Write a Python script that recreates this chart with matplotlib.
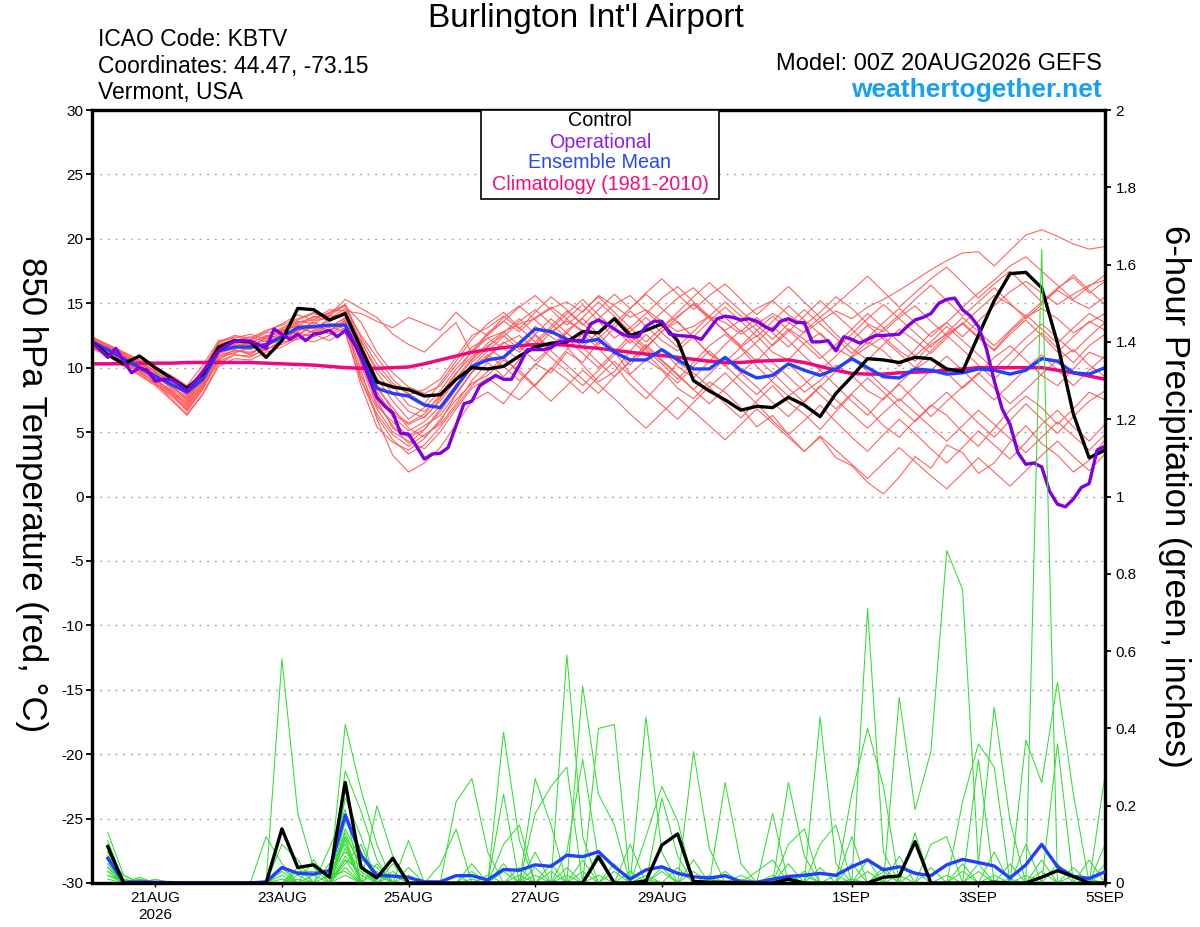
import matplotlib
matplotlib.use('Agg')
import matplotlib.pyplot as plt
import numpy as np
from matplotlib.patches import Rectangle

plt.rcParams['font.family'] = ['Liberation Sans', 'DejaVu Sans']
plt.rcParams['axes.unicode_minus'] = False

# forecast hours from 00Z 20AUG2026
hours6 = np.arange(0, 385, 6)
hours3 = np.arange(0, 385, 3)
precip_hours = hours6[1:]

tick_hours = [24, 72, 120, 168, 216, 288, 336, 384]
tick_labels = ['21AUG\n2026', '23AUG', '25AUG', '27AUG', '29AUG', '1SEP', '3SEP', '5SEP']
precip_ticks = [0, 0.2, 0.4, 0.6, 0.8, 1.0, 1.2, 1.4, 1.6, 1.8, 2.0]
precip_tick_labels = ['0', '0.2', '0.4', '0.6', '0.8', '1', '1.2', '1.4', '1.6', '1.8', '2']

# 850 hPa temperature (C), 6-hourly
control_t = [12.0, 11.0, 10.3, 10.9, 10.0, 9.2, 8.4, 9.5, 11.6, 12.1,
             12.0, 10.8, 12.1, 14.6, 14.5, 13.7, 14.2, 11.5, 8.9, 8.5,
             8.3, 7.8, 7.9, 9.1, 10.0, 9.9, 10.1, 10.9, 11.6, 11.9,
             12.0, 12.8, 12.7, 13.8, 12.5, 12.9, 13.4, 12.1, 9.0, 8.2,
             7.5, 6.7, 7.0, 6.9, 7.7, 7.1, 6.2, 8.0, 9.3, 10.7,
             10.6, 10.4, 10.8, 10.7, 9.9, 9.7, 12.5, 15.2, 17.3, 17.4,
             16.2, 11.9, 6.4, 3.0, 3.6]

mean_t = [12.0, 11.4, 10.7, 10.0, 9.35, 8.7, 8.1, 9.1, 11.3, 11.6,
          11.6, 11.8, 12.4, 13.1, 13.2, 13.3, 13.3, 10.9, 8.4, 8.0,
          7.8, 7.1, 6.9, 8.5, 10.1, 10.6, 10.8, 11.9, 13.0, 12.8,
          12.2, 12.0, 12.2, 11.2, 10.6, 10.6, 11.4, 10.6, 9.9, 9.9,
          10.8, 9.8, 9.2, 9.4, 10.3, 9.8, 9.4, 9.9, 10.7, 10.0,
          9.3, 9.2, 9.9, 9.8, 9.5, 9.6, 9.9, 9.8, 9.5, 9.8,
          10.7, 10.5, 9.6, 9.5, 10.0]

clim_t = [10.3, 10.3, 10.3, 10.35, 10.35, 10.35, 10.4, 10.4, 10.4, 10.4,
          10.4, 10.35, 10.3, 10.25, 10.2, 10.1, 10.0, 9.95, 9.95, 10.0,
          10.05, 10.3, 10.6, 10.9, 11.2, 11.4, 11.55, 11.7, 11.8, 11.8,
          11.75, 11.6, 11.5, 11.35, 11.2, 11.05, 10.95, 10.8, 10.65, 10.5,
          10.4, 10.4, 10.5, 10.55, 10.6, 10.4, 10.1, 9.8, 9.55, 9.5,
          9.5, 9.6, 9.65, 9.7, 9.8, 9.9, 10.0, 10.0, 10.0, 10.0,
          10.0, 9.8, 9.6, 9.35, 9.1]

# operational run, 3-hourly
oper_t = [12.0, 11.4, 10.8, 11.5, 10.5, 9.6, 10.0, 9.8, 8.95, 9.1,
          9.1, 8.7, 8.2, 8.9, 9.65, 10.5, 11.3, 11.7, 12.06, 12.1,
          12.06, 11.8, 11.5, 13.0, 12.6, 12.2, 12.6, 12.1, 12.6, 12.7,
          12.9, 12.4, 12.9, 12.0, 10.8, 9.2, 7.7, 7.0, 6.5, 4.9,
          4.85, 3.9, 2.9, 3.3, 3.35, 3.8, 5.5, 7.2, 7.4, 8.6,
          9.0, 9.4, 9.1, 9.1, 10.2, 11.4, 11.4, 11.4, 11.55, 12.0,
          12.1, 12.1, 12.1, 13.4, 13.7, 13.4, 13.0, 12.6, 12.4, 12.4,
          13.2, 13.6, 13.6, 12.6, 12.5, 12.45, 12.4, 12.2, 13.0, 13.8,
          14.0, 13.9, 13.7, 13.8, 13.6, 13.2, 12.9, 13.6, 13.8, 13.5,
          13.5, 12.0, 12.0, 12.1, 11.3, 12.4, 12.2, 11.9, 12.2, 12.5,
          12.5, 12.55, 12.6, 13.2, 13.7, 13.9, 14.2, 15.0, 15.3, 15.4,
          14.5, 14.0, 13.2, 11.5, 9.0, 6.8, 5.6, 3.4, 2.5, 2.6,
          2.3, 0.4, -0.6, -0.8, -0.2, 0.7, 1.0, 3.6, 3.9]

# ensemble members, 6-hourly
m01 = [12.2, 11.6, 11.0, 10.4, 9.8, 9.0, 7.8, 9.4, 11.8, 12.2, 12.0, 12.4, 12.8, 13.5, 13.9, 14.2, 14.8,
       13.5, 11.2, 9.6, 8.5, 8.0, 8.6, 10.2, 11.6, 12.3, 12.8, 13.4, 13.8, 14.6, 15.1,
       14.3, 15.6, 14.8, 13.9, 14.5, 13.6, 12.8, 13.2, 14.0, 13.5, 12.6, 13.4, 14.2, 13.5, 12.7, 13.6, 14.4, 13.8, 14.7, 15.3,
       16.0, 16.8, 17.6, 18.3, 18.9, 19.0, 17.9, 19.1, 20.3, 20.7, 20.2, 19.6, 19.2, 19.4]
m02 = [11.8, 11.2, 10.3, 9.8, 9.2, 8.1, 6.6, 8.3, 10.6, 11.4, 11.0, 11.8, 12.1, 12.9, 13.1, 12.6, 13.4,
       9.8, 6.0, 3.2, 1.9, 2.6, 3.8, 5.6, 7.4, 8.1, 7.2, 8.8, 10.3, 9.6, 11.2,
       10.4, 12.0, 11.3, 9.5, 10.6, 9.8, 8.4, 7.6, 8.9, 8.1, 6.9, 5.4, 6.3, 4.8, 3.5, 4.6, 3.0, 2.4, 1.1, 0.2,
       1.5, 3.1, 2.2, 4.0, 3.4, 1.8, 2.6, 4.2, 5.5, 4.1, 3.2, 1.9, 2.8, 4.4]
m03 = [12.0, 11.4, 10.8, 10.1, 9.5, 8.7, 7.4, 9.0, 11.2, 11.6, 11.4, 11.9, 12.6, 13.0, 12.8, 13.4, 13.0,
       11.2, 8.4, 6.9, 5.3, 4.6, 5.8, 7.9, 9.6, 10.8, 11.9, 12.5, 11.4, 12.8, 13.6,
       12.9, 11.8, 13.1, 14.4, 13.2, 12.1, 11.3, 12.4, 11.0, 10.4, 11.6, 12.5, 11.2, 10.6, 11.9, 12.7, 11.5, 10.8, 11.6, 12.4,
       11.3, 10.5, 11.8, 12.6, 13.4, 12.3, 11.4, 12.8, 13.9, 14.6, 13.8, 12.7, 13.5, 14.2]
m04 = [11.6, 11.0, 10.6, 9.9, 9.0, 8.3, 7.0, 8.6, 10.9, 11.1, 11.7, 11.3, 12.2, 12.5, 13.3, 12.9, 13.7,
       10.6, 7.2, 5.5, 4.1, 5.2, 6.6, 8.3, 10.4, 11.5, 10.7, 11.9, 13.2, 12.4, 11.6,
       10.2, 8.9, 9.7, 11.3, 12.6, 11.4, 10.1, 9.2, 10.5, 11.8, 12.9, 11.7, 10.4, 9.3, 8.1, 9.0, 10.2, 9.4, 8.2, 7.5,
       8.8, 9.9, 10.7, 9.6, 8.4, 9.5, 10.8, 11.7, 10.6, 9.4, 8.6, 9.9, 11.2, 10.7]
m05 = [12.4, 11.8, 11.2, 10.6, 10.0, 9.4, 8.6, 10.2, 12.1, 12.3, 12.6, 12.2, 13.0, 13.6, 13.4, 14.1, 15.3,
       14.6, 13.9, 12.6, 11.8, 11.2, 12.4, 13.5, 11.1, 12.6, 13.9, 14.8, 13.7, 12.6, 13.8,
       14.9, 13.6, 12.3, 13.1, 14.2, 15.4, 16.3, 15.1, 14.0, 12.8, 11.6, 10.5, 11.8, 13.0, 12.2, 11.0, 9.8, 10.9, 12.0, 11.3,
       10.1, 11.4, 12.7, 13.5, 12.4, 13.6, 14.8, 15.9, 16.7, 15.8, 14.9, 15.7, 16.4, 16.8]
m06 = [11.9, 11.3, 10.5, 9.7, 8.8, 7.6, 6.4, 8.0, 10.3, 11.0, 10.8, 11.5, 11.8, 12.4, 12.6, 12.1, 12.9,
       8.6, 5.4, 4.2, 3.6, 4.5, 6.0, 7.5, 8.8, 9.4, 10.6, 9.8, 8.6, 9.9, 11.4,
       12.6, 11.5, 10.2, 8.7, 7.6, 8.9, 10.4, 9.6, 8.5, 7.2, 6.1, 7.4, 8.6, 7.3, 6.4, 5.2, 6.6, 7.9, 6.8, 5.5,
       4.6, 5.9, 7.1, 6.3, 5.0, 3.9, 5.3, 6.7, 7.8, 6.9, 5.6, 6.8, 8.1, 7.5]
m07 = [12.1, 11.5, 10.9, 10.3, 9.6, 9.0, 8.1, 9.7, 11.5, 11.9, 12.1, 12.7, 12.9, 13.2, 14.0, 13.6, 14.4,
       14.2, 13.6, 13.1, 13.9, 13.4, 12.9, 14.3, 13.2, 12.5, 13.6, 12.8, 13.9, 14.7, 13.8,
       12.7, 13.8, 14.9, 15.6, 14.4, 13.2, 14.0, 14.9, 13.8, 12.9, 13.7, 14.6, 15.2, 14.1, 13.3, 14.3, 15.5, 14.6, 13.4, 12.8,
       13.9, 14.8, 13.6, 12.5, 13.4, 14.5, 15.6, 14.9, 14.0, 15.1, 16.0, 15.2, 14.6, 15.5]
m08 = [11.7, 11.1, 10.4, 9.6, 8.9, 8.0, 6.9, 8.8, 11.0, 11.3, 11.2, 11.6, 12.4, 13.1, 12.7, 13.2, 13.8,
       10.9, 7.8, 6.2, 5.1, 5.8, 7.0, 8.7, 10.1, 11.3, 12.4, 13.6, 14.5, 13.4, 12.3,
       11.1, 10.0, 11.2, 12.5, 11.4, 10.3, 9.1, 10.4, 11.7, 12.6, 11.5, 10.1, 8.9, 7.8, 8.7, 9.8, 8.6, 7.4, 6.3, 7.6,
       8.7, 7.5, 6.2, 7.4, 8.5, 9.6, 8.4, 7.2, 8.3, 9.5, 10.6, 11.4, 10.2, 9.3]
m09 = [12.3, 11.7, 11.1, 10.2, 9.3, 8.5, 7.6, 9.2, 11.4, 12.0, 11.8, 12.1, 12.7, 13.5, 13.7, 14.3, 14.9,
       11.8, 9.2, 7.4, 6.0, 6.9, 8.2, 9.9, 11.2, 12.3, 11.5, 10.6, 11.8, 13.0, 14.2,
       15.3, 14.1, 13.0, 11.9, 13.1, 14.3, 15.4, 16.2, 15.0, 13.9, 12.8, 13.9, 12.7, 11.6, 12.8, 13.9, 12.6, 11.5, 10.6, 11.8,
       13.0, 12.1, 11.1, 12.3, 13.5, 12.4, 11.3, 12.6, 13.7, 12.5, 11.2, 12.4, 13.6, 12.9]
m10 = [11.5, 10.9, 10.2, 9.4, 8.6, 7.5, 6.3, 7.9, 10.1, 10.7, 10.6, 11.2, 11.6, 12.3, 12.0, 12.5, 13.1,
       9.4, 6.8, 5.0, 4.3, 3.7, 5.0, 6.8, 8.4, 9.2, 8.3, 7.5, 8.7, 10.0, 9.1,
       8.0, 9.3, 10.5, 9.4, 8.2, 7.1, 6.0, 7.3, 8.5, 9.6, 8.4, 7.2, 5.9, 4.8, 5.9, 7.1, 5.8, 4.6, 3.5, 4.8,
       6.0, 4.9, 3.7, 2.6, 3.8, 5.1, 4.0, 2.9, 4.2, 5.6, 6.7, 5.4, 4.3, 5.6]
m11 = [12.0, 11.3, 10.7, 10.0, 9.1, 8.2, 7.2, 8.9, 11.1, 11.5, 11.9, 12.5, 12.3, 12.9, 13.5, 13.1, 13.9,
       12.1, 9.6, 8.0, 6.6, 6.1, 7.6, 9.2, 10.7, 11.9, 12.8, 11.7, 10.5, 11.6, 12.9,
       13.8, 12.6, 11.4, 10.2, 11.5, 12.8, 13.6, 12.3, 11.1, 10.1, 10.9, 12.0, 13.2, 12.1, 10.9, 9.8, 10.9, 12.1, 13.3, 12.2,
       11.1, 10.0, 11.3, 12.5, 11.4, 10.2, 9.1, 10.3, 11.6, 12.7, 11.5, 10.4, 11.7, 12.6]
m12 = [12.2, 11.7, 11.0, 10.5, 9.7, 8.8, 7.9, 9.5, 11.6, 12.1, 12.4, 12.0, 12.8, 13.3, 13.0, 13.8, 14.6,
       12.5, 10.8, 9.1, 8.0, 7.2, 8.8, 10.5, 12.2, 13.4, 14.3, 13.1, 12.0, 13.2, 14.4,
       13.3, 14.5, 15.7, 14.6, 15.8, 16.9, 15.7, 14.5, 15.6, 16.5, 15.3, 14.1, 15.2, 16.3, 15.1, 13.9, 14.9, 16.0, 17.1, 15.9,
       14.7, 15.8, 16.9, 17.8, 16.6, 15.4, 16.5, 17.5, 16.3, 15.1, 16.2, 17.0, 15.8, 16.7]
m13 = [11.8, 11.0, 10.1, 9.5, 8.7, 7.8, 6.7, 8.4, 10.7, 11.2, 11.5, 11.9, 12.5, 12.7, 12.4, 12.9, 13.6,
       9.1, 6.4, 4.8, 3.9, 4.8, 5.6, 7.2, 9.0, 10.4, 9.3, 10.6, 11.9, 10.8, 9.7,
       8.6, 9.8, 11.0, 12.2, 11.1, 9.9, 8.8, 10.1, 11.3, 10.2, 9.0, 7.9, 9.1, 10.3, 9.1, 7.9, 6.8, 8.0, 9.2, 8.1,
       6.9, 5.8, 7.0, 8.1, 6.9, 5.7, 4.6, 5.9, 7.2, 6.0, 4.9, 6.2, 7.4, 8.2]
m14 = [12.1, 11.5, 10.8, 10.0, 9.4, 8.4, 7.3, 9.1, 11.3, 11.8, 11.5, 12.4, 13.1, 13.7, 14.2, 13.8, 14.2,
       11.5, 8.7, 6.6, 5.7, 6.4, 7.9, 9.6, 10.9, 11.6, 12.7, 13.8, 12.6, 11.4, 12.7,
       13.9, 15.1, 14.0, 12.8, 13.9, 12.7, 11.6, 12.8, 14.0, 15.1, 14.0, 12.9, 11.7, 12.8, 14.0, 15.2, 14.1, 13.0, 11.8, 13.0,
       14.1, 15.3, 16.4, 15.2, 14.0, 15.1, 16.2, 15.0, 13.8, 14.9, 16.1, 17.2, 16.0, 14.9]
m15 = [11.9, 11.4, 10.7, 10.2, 9.2, 8.6, 7.7, 9.3, 11.2, 11.7, 12.0, 11.7, 12.5, 12.8, 13.6, 14.0, 14.1,
       10.2, 7.0, 5.8, 4.7, 5.5, 6.3, 8.0, 9.7, 10.9, 12.0, 11.2, 12.5, 11.3, 10.2,
       9.1, 8.0, 9.3, 10.5, 11.6, 10.5, 9.4, 8.3, 9.5, 10.7, 9.6, 8.5, 7.3, 6.2, 7.4, 8.6, 7.5, 6.4, 5.3, 6.5,
       7.6, 6.5, 5.4, 4.3, 5.5, 6.7, 5.6, 4.5, 3.4, 4.6, 5.8, 4.7, 3.6, 4.8]
m16 = [12.0, 11.6, 11.1, 10.4, 9.6, 8.9, 8.0, 9.8, 11.9, 12.4, 12.2, 12.8, 13.4, 14.1, 13.7, 14.5, 14.4,
       12.0, 9.9, 8.6, 7.1, 6.6, 7.7, 9.5, 11.3, 12.7, 13.6, 14.7, 15.6, 14.5, 13.3,
       14.4, 15.5, 14.3, 13.1, 12.0, 13.1, 14.3, 15.5, 16.6, 15.5, 14.4, 13.3, 12.2, 13.4, 14.5, 13.4, 12.3, 11.1, 12.3, 13.5,
       14.6, 13.5, 12.4, 13.5, 14.7, 15.8, 16.8, 17.9, 18.6, 17.5, 16.4, 15.3, 16.3, 17.2]
m17 = [11.7, 11.2, 10.5, 9.8, 9.0, 8.1, 7.1, 8.7, 10.8, 11.4, 11.1, 11.8, 12.2, 12.6, 13.2, 12.8, 13.5,
       10.4, 7.5, 5.3, 4.6, 5.2, 6.8, 8.5, 10.0, 11.0, 10.1, 9.0, 10.2, 11.5, 12.7,
       11.6, 10.4, 9.3, 10.5, 11.8, 10.6, 9.5, 8.3, 7.2, 8.4, 9.6, 10.7, 9.6, 8.4, 7.3, 8.5, 9.7, 10.8, 9.7, 8.5,
       7.4, 8.6, 9.8, 10.9, 9.8, 8.6, 7.5, 8.7, 9.9, 11.0, 9.8, 8.6, 9.8, 10.9]
m18 = [12.3, 11.8, 11.2, 10.6, 9.9, 9.2, 8.3, 9.9, 12.0, 12.5, 12.3, 12.9, 13.3, 13.8, 14.3, 14.0, 14.9,
       12.3, 10.3, 8.8, 7.9, 8.3, 9.1, 10.8, 12.5, 13.1, 14.0, 13.0, 14.3, 15.5, 14.5,
       13.4, 12.3, 13.4, 14.6, 15.7, 14.6, 13.5, 12.4, 13.6, 14.7, 13.6, 12.4, 13.6, 14.8, 13.7, 12.6, 11.5, 12.6, 13.8, 14.9,
       13.8, 12.7, 11.6, 12.7, 13.9, 12.8, 11.7, 12.9, 14.1, 13.0, 11.9, 13.1, 14.2, 13.5]
m19 = [11.6, 11.0, 10.4, 9.7, 8.8, 7.9, 6.8, 8.5, 10.5, 11.0, 10.9, 11.4, 12.0, 12.2, 12.9, 13.3, 12.7,
       9.0, 6.2, 4.4, 3.3, 4.0, 5.4, 7.0, 8.6, 9.7, 10.8, 9.6, 8.5, 7.4, 8.6,
       9.8, 8.7, 7.6, 6.4, 5.3, 6.5, 7.7, 6.6, 5.5, 4.4, 5.6, 6.8, 5.7, 4.6, 3.5, 4.7, 3.6, 2.5, 1.4, 2.6,
       3.8, 2.7, 1.6, 0.6, 1.8, 3.0, 1.9, 0.8, 2.0, 3.2, 4.3, 3.1, 2.0, 3.3]
m20 = [12.0, 11.4, 10.9, 10.2, 9.3, 8.6, 7.5, 9.2, 11.3, 11.9, 11.7, 12.3, 12.9, 13.4, 13.1, 13.6, 14.1,
       11.0, 8.1, 6.4, 5.6, 6.2, 7.4, 9.0, 10.6, 11.7, 12.5, 11.4, 12.6, 13.8, 12.7,
       11.6, 12.8, 13.9, 12.7, 11.6, 12.8, 13.9, 15.0, 13.9, 12.8, 11.7, 12.9, 14.0, 12.9, 11.8, 10.7, 11.8, 13.0, 14.2, 13.1,
       12.0, 10.9, 12.0, 13.2, 12.1, 11.0, 9.9, 11.1, 12.3, 13.4, 12.3, 11.2, 12.4, 13.5]
members_t = [m01, m02, m03, m04, m05, m06, m07, m08, m09, m10,
             m11, m12, m13, m14, m15, m16, m17, m18, m19, m20]

# 6-hour precipitation (inches), periods ending 06Z 20AUG ... 00Z 5SEP
control_p = [0.094, 0, 0, 0, 0, 0, 0, 0, 0, 0, 0, 0.14, 0.04, 0.047, 0.015, 0.26,
             0.04, 0.013, 0.064, 0, 0, 0, 0, 0, 0, 0, 0, 0, 0, 0, 0, 0.068,
             0, 0, 0.005, 0.098, 0.127, 0.004, 0.002, 0.002, 0.001, 0, 0, 0.01, 0, 0, 0, 0,
             0, 0.015, 0.018, 0.107, 0, 0, 0, 0, 0.002, 0, 0, 0.015, 0.032, 0.017, 0, 0]
mean_p = [0.064, 0.002, 0.003, 0.002, 0.001, 0, 0, 0, 0, 0, 0.003, 0.04, 0.025, 0.023, 0.032, 0.176,
          0.072, 0.02, 0.018, 0.014, 0.003, 0.003, 0.019, 0.019, 0.008, 0.035, 0.033, 0.047, 0.043, 0.072, 0.068, 0.081,
          0.042, 0.01, 0.034, 0.042, 0.025, 0.016, 0.013, 0.019, 0.003, 0.002, 0.01, 0.017, 0.02, 0.025, 0.02, 0.042,
          0.06, 0.034, 0.042, 0.025, 0.019, 0.047, 0.061, 0.053, 0.044, 0.013, 0.047, 0.10, 0.042, 0.017, 0.012, 0.029]

# member precipitation, {period number: inches}; periods not listed are dry
g01 = {1: 0.13, 2: 0.02, 12: 0.58, 13: 0.18, 14: 0.04, 16: 0.12, 17: 0.05, 26: 0.39, 27: 0.11,
       35: 0.43, 36: 0.08, 46: 0.43, 47: 0.05, 60: 1.64}
g02 = {1: 0.11, 3: 0.01, 16: 0.41, 17: 0.24, 18: 0.10, 23: 0.21, 24: 0.27, 25: 0.08, 30: 0.59,
       31: 0.12, 38: 0.34, 39: 0.09, 49: 0.71, 50: 0.08, 56: 0.05, 57: 0.455, 58: 0.16, 64: 0.10}
g03 = {1: 0.09, 12: 0.10, 13: 0.06, 16: 0.29, 17: 0.185, 18: 0.06, 26: 0.23, 28: 0.27, 29: 0.15,
       31: 0.51, 32: 0.23, 33: 0.15, 44: 0.26, 45: 0.07, 51: 0.48, 52: 0.19, 53: 0.34, 54: 0.86,
       55: 0.76, 56: 0.05}
g04 = {1: 0.07, 2: 0.01, 11: 0.12, 12: 0.05, 16: 0.22, 17: 0.12, 20: 0.11, 28: 0.18, 29: 0.25,
       30: 0.30, 32: 0.40, 33: 0.41, 43: 0.18, 48: 0.23, 49: 0.40, 50: 0.25, 59: 0.37, 60: 0.26,
       61: 0.52, 62: 0.23}
g05 = {1: 0.06, 4: 0.01, 13: 0.04, 15: 0.09, 16: 0.19, 18: 0.20, 19: 0.07, 22: 0.047, 23: 0.14,
       26: 0.10, 27: 0.15, 35: 0.12, 36: 0.25, 37: 0.16, 40: 0.26, 41: 0.05, 55: 0.21, 56: 0.36,
       57: 0.30, 64: 0.28}
g06 = {1: 0.05, 12: 0.03, 14: 0.06, 16: 0.16, 17: 0.08, 19: 0.05, 24: 0.05, 30: 0.08, 31: 0.32,
       32: 0.06, 36: 0.22, 37: 0.07, 46: 0.10, 47: 0.15, 56: 0.32, 61: 0.36, 63: 0.06}
g07 = {1: 0.04, 3: 0.015, 15: 0.05, 16: 0.10, 20: 0.04, 28: 0.08, 34: 0.10, 38: 0.06, 44: 0.10,
       45: 0.14, 48: 0.12, 53: 0.10, 54: 0.12}
g08 = {1: 0.03, 13: 0.03, 14: 0.03, 15: 0.03, 16: 0.08, 17: 0.04, 18: 0.02, 25: 0.02, 29: 0.05,
       42: 0.03, 43: 0.06, 49: 0.06, 52: 0.13, 59: 0.10}
g09 = {1: 0.02, 2: 0.005, 12: 0.02, 16: 0.06, 17: 0.03, 33: 0.03, 39: 0.02, 50: 0.03}
g10 = {1: 0.08, 2: 0.01, 16: 0.14, 17: 0.06, 18: 0.04, 27: 0.04, 32: 0.08, 36: 0.04, 45: 0.03,
       55: 0.05, 62: 0.04}
g11 = {1: 0.10, 16: 0.05, 17: 0.10, 24: 0.03, 30: 0.04, 35: 0.02, 41: 0.02, 48: 0.05, 57: 0.08, 64: 0.05}
g12 = {1: 0.06, 2: 0.02, 13: 0.02, 16: 0.12, 19: 0.03, 26: 0.05, 31: 0.06, 37: 0.04, 44: 0.05,
       51: 0.07, 58: 0.05}
g13 = {1: 0.04, 12: 0.04, 16: 0.09, 18: 0.03, 23: 0.02, 29: 0.03, 33: 0.05, 40: 0.03, 46: 0.04,
       53: 0.04, 60: 0.06}
g14 = {1: 0.03, 16: 0.07, 17: 0.02, 20: 0.02, 28: 0.04, 34: 0.03, 43: 0.02, 50: 0.04, 56: 0.03, 61: 0.05}
g15 = {1: 0.05, 3: 0.01, 14: 0.02, 16: 0.11, 26: 0.03, 32: 0.02, 38: 0.03, 47: 0.02, 54: 0.02, 62: 0.02}
g16 = {1: 0.02, 16: 0.04, 18: 0.05, 27: 0.02, 36: 0.03, 44: 0.02, 52: 0.03, 59: 0.02}
g17 = {1: 0.07, 16: 0.13, 17: 0.04, 30: 0.02, 39: 0.01, 49: 0.03, 57: 0.02, 64: 0.03}
g18 = {1: 0.01, 15: 0.02, 16: 0.03, 31: 0.03, 45: 0.02, 55: 0.03, 63: 0.01}
g19 = {1: 0.08, 12: 0.01, 16: 0.06, 19: 0.02, 28: 0.02, 41: 0.01, 51: 0.02, 60: 0.03}
g20 = {1: 0.04, 13: 0.01, 16: 0.02, 24: 0.01, 35: 0.01, 48: 0.01, 58: 0.01}
members_p = [g01, g02, g03, g04, g05, g06, g07, g08, g09, g10,
             g11, g12, g13, g14, g15, g16, g17, g18, g19, g20]

W, H = 1200, 927


def fx(px):
    return px / W


def fy(py):
    return 1 - py / H


fig = plt.figure(figsize=(12, 9.27), dpi=100)
ax = fig.add_axes([fx(92), fy(883), fx(1105) - fx(92), fy(110) - fy(883)])
ax2 = ax.twinx()

# temperature side
for m in members_t:
    ax.plot(hours6, m, color='#ff5a5a', lw=0.75, zorder=2)
ax.plot(hours6, clim_t, color='#f0087f', lw=2.5, zorder=3)
ax.plot(hours6, mean_t, color='#2040ff', lw=2.4, zorder=4)
ax.plot(hours6, control_t, color='black', lw=2.4, zorder=5)
ax.plot(hours3, oper_t, color='#8000e0', lw=2.4, zorder=6)

# precipitation side
for g in members_p:
    vals = [g.get(k, 0.0) for k in range(1, len(precip_hours) + 1)]
    ax2.plot(precip_hours, vals, color='#33dd33', lw=0.75, zorder=2)
ax2.plot(precip_hours, mean_p, color='#2040ff', lw=2.4, zorder=4)
ax2.plot(precip_hours, control_p, color='black', lw=2.4, zorder=5)

ax.set_xlim(0, 384)
ax.set_ylim(-30, 30)
ax2.set_ylim(0, 2)

ax.set_yticks(range(-30, 31, 5))
ax.set_xticks(tick_hours)
ax.set_xticklabels(tick_labels)
ax2.set_yticks(precip_ticks)
ax2.set_yticklabels(precip_tick_labels)

ax.grid(axis='y', color='#aaaaaa', linestyle=(0, (1.5, 4)), linewidth=1.0)
ax.set_axisbelow(True)

ax.tick_params(axis='y', direction='out', length=4.5, width=1.3, pad=1.5, labelsize=11)
ax.tick_params(axis='x', direction='out', length=3, width=1.0, pad=3, labelsize=11)
ax2.tick_params(axis='y', direction='out', length=4.5, width=1.3, pad=3, labelsize=11)

for a in (ax, ax2):
    for s in a.spines.values():
        s.set_linewidth(2.3)
        s.set_color('black')

# legend box
lx0 = (481 - 92) / 1013
lx1 = (719 - 92) / 1013
ly0 = (883 - 199) / 773
ax2.add_patch(Rectangle((lx0, ly0), lx1 - lx0, 1 - ly0, transform=ax2.transAxes,
                        facecolor='white', edgecolor='black', lw=1.2, zorder=10, clip_on=False))
legend_items = [('Control', 'black', 121), ('Operational', '#9020e0', 142),
                ('Ensemble Mean', '#2a48f0', 163), ('Climatology (1981-2010)', '#f0107f', 185)]
for txt, col, py in legend_items:
    fig.text(fx(600), fy(py), txt, color=col, ha='center', va='center', fontsize=14.2, zorder=11)

# header
fig.text(fx(586), fy(19), "Burlington Int'l Airport", ha='center', va='center', fontsize=24)
fig.text(fx(98), fy(40), 'ICAO Code: KBTV', ha='left', va='center', fontsize=16.5)
fig.text(fx(98), fy(67), 'Coordinates: 44.47, -73.15', ha='left', va='center', fontsize=16.5)
fig.text(fx(98), fy(93), 'Vermont, USA', ha='left', va='center', fontsize=16.5)
fig.text(fx(1102), fy(64), 'Model: 00Z 20AUG2026 GEFS', ha='right', va='center', fontsize=17)
fig.text(fx(1102), fy(90), 'weathertogether.net', ha='right', va='center', fontsize=19,
         fontweight='bold', color='#1aa0f0')

# axis titles
fig.text(fx(31), fy(495), '850 hPa Temperature (red, °C)', rotation=270,
         ha='center', va='center', fontsize=25)
fig.text(fx(1175), fy(496), '6-hour Precipitation (green, inches)', rotation=270,
         ha='center', va='center', fontsize=25)

fig.savefig('out.png', dpi=100)
